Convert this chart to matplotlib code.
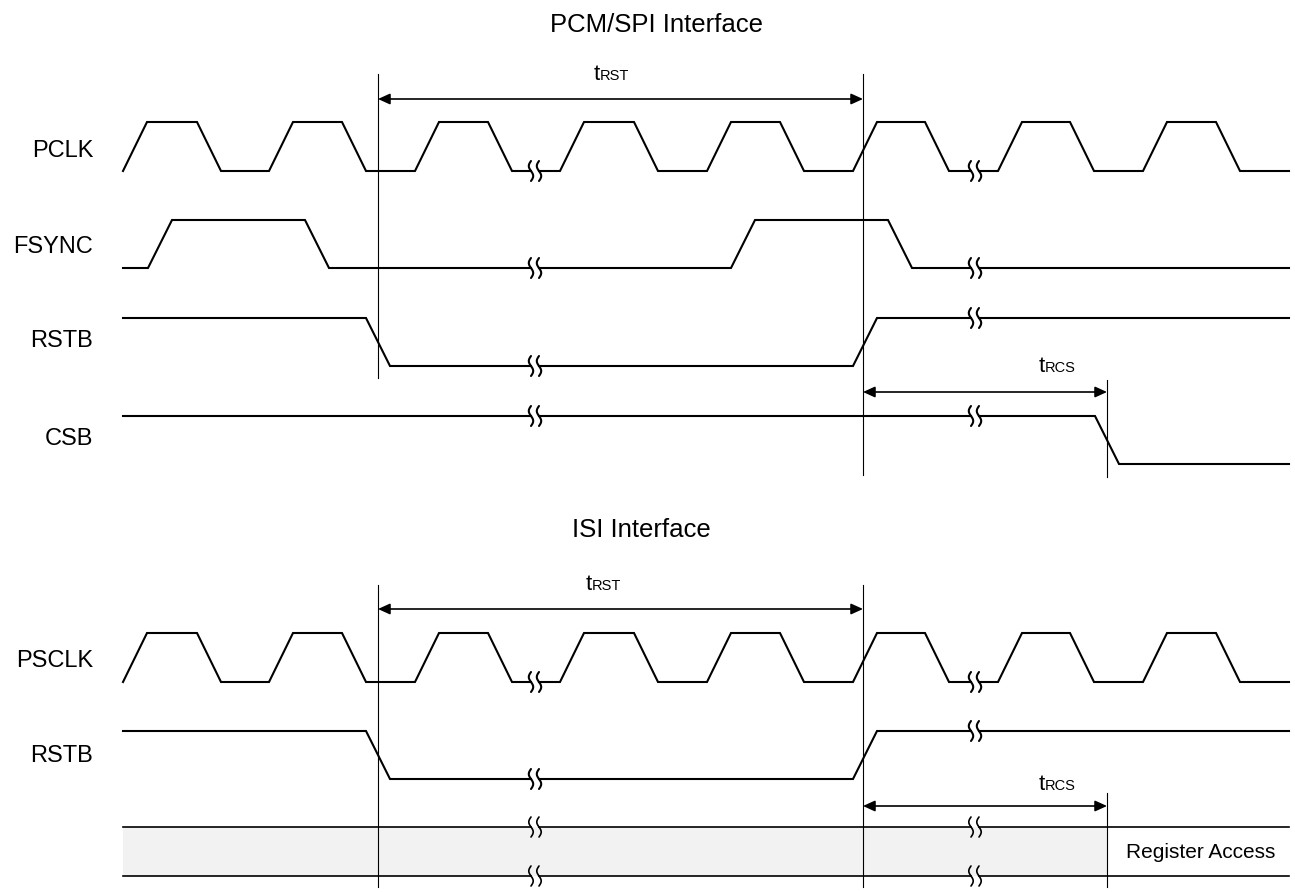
import matplotlib.pyplot as plt
import numpy as np

plt.rcParams['font.family'] = ['Liberation Sans', 'DejaVu Sans']

# --- timing data (time axis in drawing units) ---
T_START = 123
T_END = 1289
SLEW = 24
BREAKS = [535, 975]

pclk_rise = [123, 269, 415, 560, 707, 853, 998, 1143]
pclk_fall = [197, 342, 488, 634, 780, 925, 1070, 1216]
fsync_rise = [148, 731]
fsync_fall = [305, 888]
rstb_fall = [366]
rstb_rise = [853]
csb_fall = [1095]

t_rst = [378, 863]
t_rcs = [863, 1107]
reg_access_start = 1107

LW = 1.5


def build_wave(level, rises, falls):
    # list of (time, new level) -> polyline of levels
    edges = sorted([(t, 1) for t in rises] + [(t, 0) for t in falls])
    xs, ls = [T_START], [level]
    for t, new in edges:
        xs += [t, t + SLEW]
        ls += [level, new]
        level = new
    xs.append(T_END)
    ls.append(level)
    return np.array(xs, float), np.array(ls, float)


def squiggle(ax, cx, cy, lw=LW):
    yy = np.linspace(-10, 10, 40)
    ax.plot(cx + 2.2 * np.sin(np.pi * yy / 10), cy + yy, color='black', lw=lw,
            solid_capstyle='round')


def draw_signal(ax, xs, ls, y_hi, y_lo, gap=4, lw=LW):
    ys = y_lo + (y_hi - y_lo) * ls
    bounds = [T_START]
    for b in BREAKS:
        bounds += [b - gap, b + gap]
    bounds.append(T_END)
    for a, b in zip(bounds[0::2], bounds[1::2]):
        m = (xs > a) & (xs < b)
        px = np.concatenate([[a], xs[m], [b]])
        py = np.concatenate([[np.interp(a, xs, ys)], ys[m], [np.interp(b, xs, ys)]])
        ax.plot(px, py, color='black', lw=lw, solid_joinstyle='miter')
    for b in BREAKS:
        cy = np.interp(b, xs, ys)
        squiggle(ax, b - gap, cy, lw)
        squiggle(ax, b + gap, cy, lw)


def timing_arrow(ax, x0, x1, y, lab_x, lab_y, sub):
    ax.annotate('', xy=(x1, y), xytext=(x0, y),
                arrowprops=dict(arrowstyle='<|-|>,head_length=0.55,head_width=0.25',
                                mutation_scale=13, lw=1.2, color='black',
                                shrinkA=0, shrinkB=0))
    ax.text(lab_x, lab_y, 't', fontsize=16, ha='right', va='baseline')
    ax.text(lab_x, lab_y, sub, fontsize=10.5, ha='left', va='baseline')


def vline(ax, x, y0, y1):
    ax.plot([x, x], [y0, y1], color='black', lw=0.8)


fig = plt.figure(figsize=(12.95, 8.92), dpi=100)
ax = fig.add_axes([0, 0, 1, 1])
ax.set_xlim(0, 1295)
ax.set_ylim(892, 0)
ax.axis('off')

pclk = build_wave(0, pclk_rise, pclk_fall)
fsync = build_wave(0, fsync_rise, fsync_fall)
rstb = build_wave(1, rstb_rise, rstb_fall)
csb = build_wave(1, [], csb_fall)
flat = build_wave(1, [], [])

# ---------------- PCM/SPI Interface ----------------
ax.text(656, 32, 'PCM/SPI Interface', fontsize=18.5, ha='center', va='baseline')

vline(ax, t_rst[0], 74, 378)
vline(ax, t_rst[1], 74, 475)
vline(ax, t_rcs[1], 380, 477)

timing_arrow(ax, t_rst[0], t_rst[1], 99, 600, 80, 'RST')
timing_arrow(ax, t_rcs[0], t_rcs[1], 392, 1045, 372, 'RCS')

rows = [('PCLK', pclk, 122, 171, 157),
        ('FSYNC', fsync, 220, 268, 253),
        ('RSTB', rstb, 318, 366, 347),
        ('CSB', csb, 416, 464, 445)]
for name, (xs, ls), yh, yl, yb in rows:
    ax.text(93, yb, name, fontsize=17, ha='right', va='baseline')
    draw_signal(ax, xs, ls, yh, yl)

# ---------------- ISI Interface ----------------
ax.text(641, 537, 'ISI Interface', fontsize=18.5, ha='center', va='baseline')

vline(ax, t_rst[0], 585, 887)
vline(ax, t_rst[1], 585, 887)

timing_arrow(ax, t_rst[0], t_rst[1], 609, 592, 590, 'RST')
timing_arrow(ax, t_rcs[0], t_rcs[1], 806, 1045, 790, 'RCS')

rows = [('PSCLK', pclk, 633, 682, 667),
        ('RSTB', rstb, 731, 779, 762)]
for name, (xs, ls), yh, yl, yb in rows:
    ax.text(93, yb, name, fontsize=17, ha='right', va='baseline')
    draw_signal(ax, xs, ls, yh, yl)

# register access bus
ax.fill_between([T_START, reg_access_start], 827, 876, color='#f2f2f2', lw=0, zorder=0)
draw_signal(ax, *flat, 827, 827, lw=1.2)
draw_signal(ax, *flat, 876, 876, lw=1.2)
vline(ax, reg_access_start, 793, 887)
ax.text(1201, 852, 'Register Access', fontsize=15, ha='center', va='center')

fig.savefig('out.png', dpi=100)
